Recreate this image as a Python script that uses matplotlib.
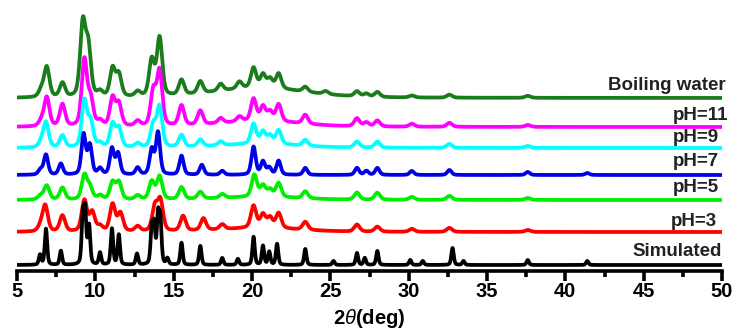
# XRD patterns of the framework after soaking, stacked with offsets
import numpy as np
import matplotlib
matplotlib.use('Agg')
import matplotlib.pyplot as plt

plt.rcParams['font.family'] = ['Liberation Sans', 'DejaVu Sans']
plt.rcParams['mathtext.fontset'] = 'custom'
plt.rcParams['mathtext.it'] = 'Liberation Sans:italic'

# sample names, top to bottom
names = ['Boiling water', 'pH=11', 'pH=9', 'pH=7', 'pH=5', 'pH=3', 'Simulated']
colours = ['#1a7c1a', '#ff00ff', '#00ffff', '#0000e6', '#00ee00', '#ff0000', '#000000']
# vertical offset of each pattern (a.u.)
offsets = [173, 144, 123, 96, 71, 39, 6]

# peak lists: 2theta (deg), intensity (a.u.), half width (deg)
boil_pos = [6.55, 6.9, 7.9, 9.2, 9.55, 10.3, 11.1, 11.5, 12.7, 13.6, 14.1, 15.5, 16.7,
            18.0, 19.2, 20.1, 20.7, 21.15, 21.7, 23.4, 24.7, 26.7, 27.3, 28.0, 30.2, 32.6, 37.6, 20.5]
boil_hgt = [7, 30, 14, 72, 48, 5, 28, 22, 5, 36, 58, 15, 12,
            7, 7, 20, 13, 9, 15, 5, 3, 5, 3, 5, 2, 3, 2, 10]
boil_wid = [0.2] * 27 + [3.5]

ph11_pos = [6.55, 6.9, 7.9, 9.3, 9.7, 10.3, 11.1, 11.5, 12.7, 13.7, 14.1, 15.5, 16.7,
            18.0, 19.2, 20.1, 20.7, 21.15, 21.7, 23.4, 26.7, 27.3, 28.0, 30.2, 32.6, 37.6, 20.5]
ph11_hgt = [5, 29, 22, 66, 26, 5, 28, 22, 5, 34, 54, 20, 14,
            5, 5, 22, 14, 9, 17, 9, 8, 4, 6, 3, 4, 2, 6]
ph11_wid = [0.2] * 26 + [3.0]

ph9_pos = [6.55, 6.85, 7.9, 9.3, 9.7, 10.3, 11.1, 11.5, 12.7, 13.7, 14.1, 15.5, 16.7,
           18.0, 20.1, 20.7, 21.15, 21.7, 23.4, 26.7, 28.0, 32.6, 37.6, 20.5]
ph9_hgt = [5, 25, 12, 46, 25, 4, 23, 19, 4, 22, 40, 12, 7,
           4, 20, 12, 8, 14, 6, 6, 6, 4, 2, 4]
ph9_wid = [0.2] * 23 + [3.0]

ph7_pos = [6.5, 6.85, 7.8, 9.25, 9.65, 10.3, 11.06, 11.45, 12.7, 13.6, 14.0, 15.5, 16.8,
           18.1, 20.1, 20.7, 21.1, 21.7, 23.4, 26.7, 27.3, 28.0, 30.2, 32.6, 37.6, 41.4]
ph7_hgt = [5, 20, 11, 40, 29, 6, 26, 21, 7, 25, 42, 19, 10,
           4, 28, 13, 7, 14, 7, 7, 4, 7, 4, 5, 3, 2]
ph7_wid = [0.16] * 26

ph5_pos = [6.5, 6.9, 7.9, 9.3, 9.65, 10.3, 11.1, 11.5, 12.7, 13.6, 14.1, 15.5, 16.7,
           18.1, 20.15, 20.7, 21.15, 21.7, 23.4, 26.7, 28.0, 30.2, 32.6, 37.6, 20.5]
ph5_hgt = [4, 14, 12, 24, 12, 4, 17, 17, 4, 18, 23, 12, 7,
           4, 22, 11, 7, 14, 7, 7, 7, 3, 4, 2, 3]
ph5_wid = [0.2] * 24 + [3.0]

ph3_pos = [6.5, 6.8, 7.9, 9.3, 9.8, 10.3, 11.1, 11.6, 12.7, 13.8, 14.15, 15.6, 16.9,
           18.1, 20.1, 20.7, 21.15, 21.7, 23.4, 26.7, 28.0, 30.2, 32.6, 37.6, 20.5]
ph3_hgt = [5, 26, 16, 31, 19, 5, 27, 18, 5, 24, 30, 15, 12,
           5, 22, 13, 10, 15, 8, 7, 5, 3, 4, 2, 4]
ph3_wid = [0.2] * 24 + [3.0]

sim_pos = [6.47, 6.85, 7.8, 9.2, 9.35, 9.6, 10.3, 11.06, 11.5, 12.66, 13.6, 13.75, 14.0,
           14.15, 14.6, 15.5, 16.7, 18.1, 19.1, 20.1, 20.7, 21.1, 21.6, 23.4, 25.2, 26.7,
           27.2, 28.0, 30.1, 30.9, 32.8, 33.5, 37.6, 41.4]
sim_hgt = [10, 36, 14, 46, 50, 38, 12, 36, 30, 11, 34, 36, 46,
           42, 6, 22, 19, 7, 6, 28, 19, 13, 21, 16, 4, 12,
           7, 14, 5, 4, 17, 4, 5, 4]
sim_wid = [0.09] * 34

peaks = [(boil_pos, boil_hgt, boil_wid), (ph11_pos, ph11_hgt, ph11_wid),
         (ph9_pos, ph9_hgt, ph9_wid), (ph7_pos, ph7_hgt, ph7_wid),
         (ph5_pos, ph5_hgt, ph5_wid), (ph3_pos, ph3_hgt, ph3_wid),
         (sim_pos, sim_hgt, sim_wid)]

two_theta = np.linspace(5, 50, 4501)


def profile(pos, hgt, wid):
    '''pseudo-Voigt sum of the listed reflections'''
    y = np.zeros_like(two_theta)
    for p, h, w in zip(pos, hgt, wid):
        d = (two_theta - p) / w
        y += h * (0.4 / (1 + d ** 2) + 0.6 * np.exp(-np.log(2) * d ** 2))
    return y


fig = plt.figure(figsize=(7.4, 3.29), dpi=100)
ax = fig.add_axes([17 / 740, 58 / 329, 705 / 740, 271 / 329])

for i in range(len(names)):
    pos, hgt, wid = peaks[i]
    ax.plot(two_theta, offsets[i] + profile(pos, hgt, wid), color=colours[i],
            lw=2.7, solid_joinstyle='round', zorder=2 + i)

# sample labels at the right end
label_y = [86, 115, 137, 161, 188, 221, 251]
label_x = [50.2, 50.4, 49.8, 49.8, 49.8, 49.7, 50.0]
for i in range(len(names)):
    ax.text(label_x[i], 271 - label_y[i], names[i], ha='right', va='center',
            fontsize=13.5, fontweight='bold', color='#222222', zorder=20, clip_on=False)

ax.set_xlim(5, 50)
ax.set_ylim(0, 271)
for s in ['top', 'right', 'left']:
    ax.spines[s].set_visible(False)
ax.spines['bottom'].set_linewidth(2.6)
ax.set_yticks([])
ax.set_xticks(np.arange(5, 51, 5))
ax.set_xticks(np.arange(7.5, 50, 5), minor=True)
ax.tick_params(axis='x', which='major', direction='out', length=7, width=2.6, pad=1,
               labelsize=14.5)
ax.tick_params(axis='x', which='minor', direction='out', length=4, width=2.6)
for t in ax.get_xticklabels():
    t.set_fontweight('bold')
ax.set_xlabel(r'2$\theta$(deg)', fontsize=14.5, fontweight='bold', labelpad=4)

fig.savefig('out.png', dpi=100)
